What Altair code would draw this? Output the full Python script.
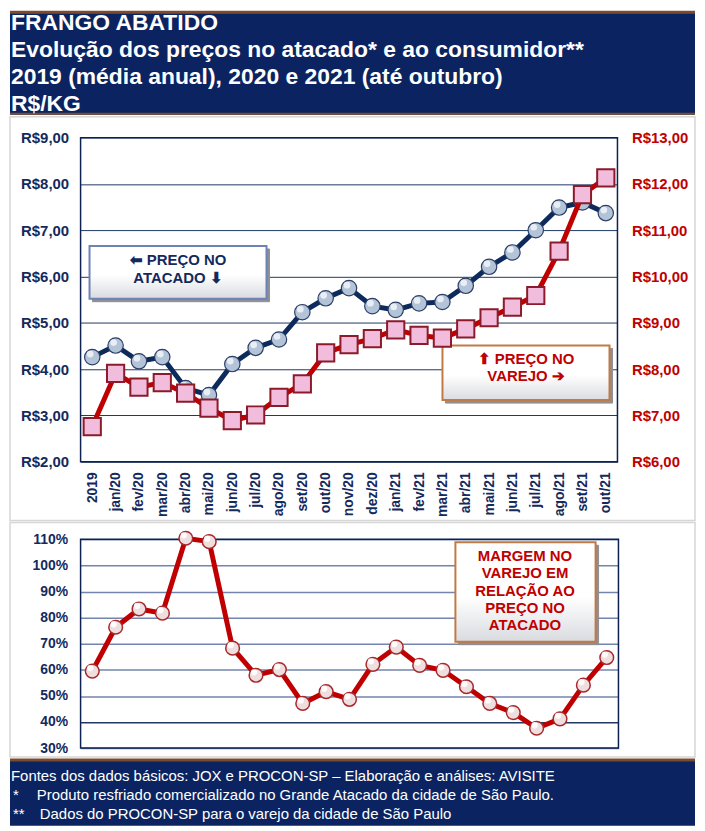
import altair as alt
import pandas as pd

# ---------------- data ----------------
categories = ["2019", "jan/20", "fev/20", "mar/20", "abr/20", "mai/20", "jun/20",
              "jul/20", "ago/20", "set/20", "out/20", "nov/20", "dez/20",
              "jan/21", "fev/21", "mar/21", "abr/21", "mai/21", "jun/21",
              "jul/21", "ago/21", "set/21", "out/21"]
atacado = [4.26, 4.51, 4.17, 4.26, 3.59, 3.44, 4.11, 4.46, 4.64, 5.23, 5.53, 5.75,
           5.36, 5.28, 5.42, 5.45, 5.80, 6.21, 6.52, 7.00, 7.49, 7.60, 7.37]
varejo = [6.76, 7.91, 7.61, 7.71, 7.48, 7.16, 6.89, 7.01, 7.39, 7.68, 8.35, 8.53,
          8.66, 8.85, 8.73, 8.67, 8.87, 9.11, 9.34, 9.59, 10.55, 11.77, 12.13]
margem = [59.5, 76.3, 83.3, 81.7, 110.4, 109.1, 68.3, 57.9, 60.1, 47.1, 51.6, 48.7,
          62.1, 68.7, 61.7, 59.8, 53.5, 47.1, 43.6, 37.6, 41.2, 54.1, 64.7]

left_ticks = [2, 3, 4, 5, 6, 7, 8, 9]
right_ticks = [6, 7, 8, 9, 10, 11, 12, 13]
pct_ticks = [30, 40, 50, 60, 70, 80, 90, 100, 110]

header_lines = ["FRANGO ABATIDO",
                "Evolução dos preços no atacado* e ao consumidor**",
                "2019 (média anual), 2020 e 2021 (até outubro)",
                "R$/KG"]
box_blue_lines = ["⬅ PREÇO NO", "ATACADO ⬇"]
box_red_lines = ["⬆ PREÇO NO", "VAREJO ➔"]
box_margin_lines = ["MARGEM NO", "VAREJO EM", "RELAÇÃO AO", "PREÇO NO", "ATACADO"]
footer_main = "Fontes dos dados básicos: JOX e PROCON-SP – Elaboração e análises: AVISITE"
footer_notes = [("*", "Produto resfriado comercializado no Grande Atacado da cidade de São Paulo."),
                ("**", "Dados do PROCON-SP para o varejo da cidade de São Paulo")]

df = pd.DataFrame({"mes": categories, "atacado": atacado, "varejo": varejo, "margem": margem})
one = pd.DataFrame({"k": [0]})

# ---------------- style ----------------
W = 689          # whole chart width
L = 71           # distance from chart's left edge to plot areas
NAVY = "#0b2461"
BROWN = "#7a4b2e"
DARK = "#14295c"
RED = "#c00000"
FONT = "Liberation Sans"
PANEL = "#d6d6d6"


def rect(x1, x2, y1, y2, **kw):
    return alt.Chart(one).mark_rect(**kw).encode(
        x=alt.value(x1), x2=alt.value(x2), y=alt.value(y1), y2=alt.value(y2))


def hrule(x1, x2, y, color, width):
    return alt.Chart(one).mark_rule(color=color, strokeWidth=width).encode(
        x=alt.value(x1), x2=alt.value(x2), y=alt.value(y))


def label(txt, x, y, **kw):
    base = dict(font=FONT, fontWeight="bold", fontSize=15, align="center", baseline="middle")
    base.update(kw)
    return alt.Chart(one).mark_text(text=txt, **base).encode(x=alt.value(x), y=alt.value(y))


def box(x1, x2, y1, y2, edge, lines, color, cx, y0, step):
    grad = alt.Gradient(gradient="linear", x1=0, x2=0, y1=0, y2=1,
                        stops=[alt.GradientStop(color="#ffffff", offset=0),
                               alt.GradientStop(color="#ffffff", offset=0.55),
                               alt.GradientStop(color="#d9dbe0", offset=1)])
    parts = [rect(x1 + 3, x2 + 3, y1 + 3, y2 + 3, fill="#8e8e96", stroke="#8e8e96"),
             rect(x1, x2, y1, y2, fill=grad, stroke=edge, strokeWidth=2)]
    for i, ln in enumerate(lines):
        parts.append(label(ln, cx, y0 + step * i, color=color))
    return parts


PW, PH = 540, 326

# ---------------- header ----------------
hdr = [rect(-L, W - L, 0, 104, fill=NAVY),
       hrule(-L, W - L, 1, BROWN, 3),
       hrule(-L, W - L, 103, BROWN, 2)]
for i, ln in enumerate(header_lines):
    hdr.append(alt.Chart(one).mark_text(
        text=ln, align="left", baseline="alphabetic", font=FONT, fontSize=23,
        fontWeight="bold", color="white").encode(x=alt.value(-L + 1), y=alt.value(19 + 27 * i)))
header = alt.layer(*hdr).properties(width=PW, height=104)

# ---------------- upper chart ----------------
money = "'R$' + replace(format(datum.value, '.2f'), '.', ',')"

x_up = alt.X("mes:N", sort=categories, scale=alt.Scale(type="point", padding=0.5),
             axis=alt.Axis(title=None, labelAngle=-90, labelFont=FONT, labelFontWeight="bold",
                           labelFontSize=14, labelColor=DARK, labelPadding=10,
                           ticks=False, domain=False, grid=False))

y_left = alt.Y("atacado:Q", scale=alt.Scale(domain=[2, 9], nice=False, zero=False),
               axis=alt.Axis(title=None, orient="left", values=left_ticks, labelExpr=money,
                             labelFont=FONT, labelFontSize=15, labelFontWeight="bold",
                             labelColor=DARK, labelPadding=12, ticks=False, domain=False,
                             grid=True, gridColor="#1f3864", gridWidth=1))
y_right = alt.Y("varejo:Q", scale=alt.Scale(domain=[6, 13], nice=False, zero=False),
                axis=alt.Axis(title=None, orient="right", values=right_ticks, labelExpr=money,
                              labelFont=FONT, labelFontSize=15, labelFontWeight="bold",
                              labelColor=RED, labelPadding=14, ticks=False, domain=False,
                              grid=False))

blue = alt.layer(
    alt.Chart(df).mark_line(color="#0d2a5c", strokeWidth=5).encode(x=x_up, y=y_left),
    alt.Chart(df).mark_circle(size=240, color="#b4c4d8", stroke="#2c3e66", strokeWidth=1.2,
                              opacity=1).encode(x=x_up, y=y_left),
    alt.Chart(df).mark_circle(size=45, color="#eef3f8", opacity=0.9, xOffset=-2,
                              yOffset=-3).encode(x=x_up, y=y_left),
)
red = alt.layer(
    alt.Chart(df).mark_line(color=RED, strokeWidth=5).encode(x=x_up, y=y_right),
    alt.Chart(df).mark_square(size=300, color="#f2bcdc", stroke="#8b1a2a", strokeWidth=2,
                              opacity=1).encode(x=x_up, y=y_right),
)

upper_deco = [rect(-L, W - L, -21, 385, fillOpacity=0, stroke=PANEL, strokeWidth=1.5)]
upper_deco += box(9, 187, 109, 162, "#6d83b5", box_blue_lines, DARK, 98, 123, 18)
upper_deco += box(364, 532, 209, 264, "#c27a45", box_red_lines, RED, 448, 223, 17)
upper_deco.append(rect(0, PW, 0, PH, fillOpacity=0, stroke="#0d2150", strokeWidth=1.5))

upper = alt.layer(*upper_deco, blue, red).resolve_scale(y="independent").properties(
    width=PW, height=PH)

# ---------------- lower chart ----------------
BW, BH = 541, 210
x_lo = alt.X("mes:N", sort=categories, scale=alt.Scale(type="point", padding=0.5), axis=None)
y_lo = alt.Y("margem:Q", scale=alt.Scale(domain=[30, 110], nice=False, zero=False),
             axis=alt.Axis(title=None, values=pct_ticks, labelExpr="datum.value + '%'",
                           labelFont=FONT, labelFontSize=14, labelFontWeight="bold",
                           labelColor=DARK, labelPadding=13, ticks=False, domain=False,
                           grid=True, gridWidth=1.5,
                           gridColor=alt.condition("datum.value == 40", alt.value("#1f3864"),
                                                   alt.value("#7385ad"))))

lower_deco = [rect(-L, W - L, -17, 219, fillOpacity=0, stroke=PANEL, strokeWidth=1.5)]
lower_deco += box(377, 518, 3, 103, "#c27a45", box_margin_lines, RED, 447, 17, 17.3)
lower_deco.append(rect(0, BW, 0, BH, fillOpacity=0, stroke="#0d2150", strokeWidth=1.5))

# footer
lower_deco.append(rect(-L, W - L, 222, 288, fill=NAVY))
lower_deco.append(hrule(-L, W - L, 222, BROWN, 3))
lower_deco.append(label(footer_main, -L + 1, 238, align="left", fontWeight="normal",
                        color="white", fontSize=15))
for i, (star, txt) in enumerate(footer_notes):
    yy = 257 + 19 * i
    lower_deco.append(label(star, -L + 3, yy, align="left", fontWeight="normal",
                            color="white", fontSize=15))
    lower_deco.append(label(txt, -L + 27 + 3 * i, yy, align="left", fontWeight="normal",
                            color="white", fontSize=15))

marg = alt.layer(
    alt.Chart(df).mark_line(color=RED, strokeWidth=5).encode(x=x_lo, y=y_lo),
    alt.Chart(df).mark_circle(size=190, color="#efdede", stroke="#a8282c", strokeWidth=1.5,
                              opacity=1).encode(x=x_lo, y=y_lo),
    alt.Chart(df).mark_circle(size=40, color="#ffffff", opacity=0.9, xOffset=-2,
                              yOffset=-3).encode(x=x_lo, y=y_lo),
)

lower = alt.layer(*lower_deco, marg).properties(width=BW, height=BH)

chart = alt.vconcat(header, upper, lower, spacing=0).resolve_scale(
    x="independent", y="independent").properties(
    padding=0, background="white").configure_view(strokeWidth=0)

chart.save("out.html", embed_options={"renderer": "svg", "actions": False})
